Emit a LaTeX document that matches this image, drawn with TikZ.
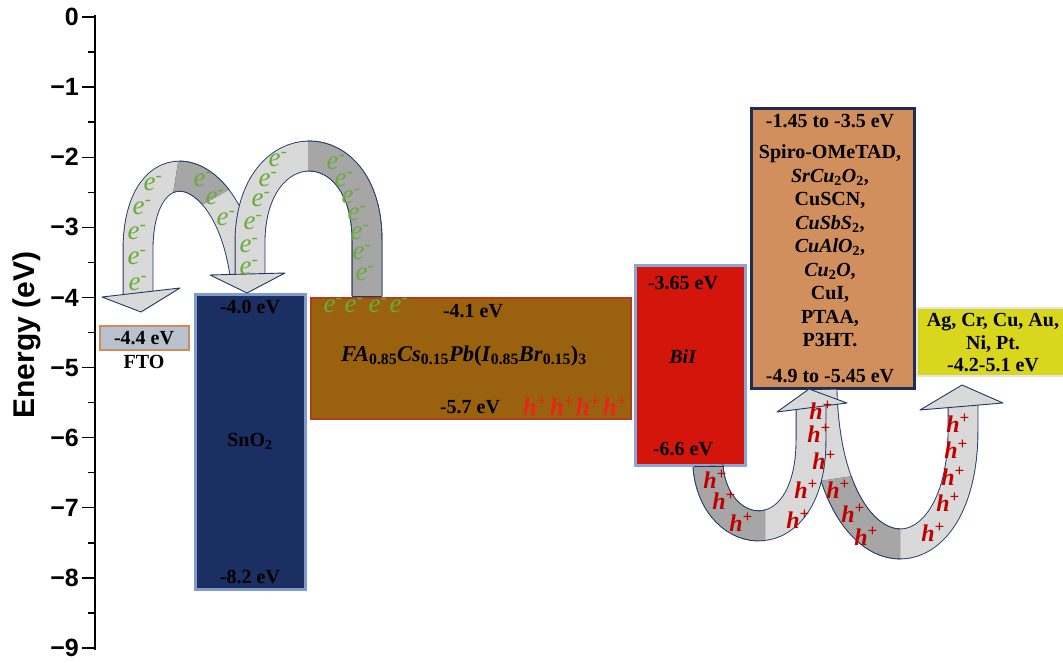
\documentclass[tikz,border=0pt]{standalone}
\usepackage{fontspec}
\setmainfont{Liberation Serif}
\newfontfamily\arialf{Liberation Sans}
\definecolor{navyc}{HTML}{1F3864}
\definecolor{ribl}{HTML}{D9D9D9}
\definecolor{ribd}{HTML}{A6A6A6}
\definecolor{egreen}{HTML}{6AAB3C}
\definecolor{hred}{HTML}{C00000}
\definecolor{pred}{HTML}{E8241C}
\definecolor{ftofill}{HTML}{B7C1CF}
\definecolor{ftodraw}{HTML}{D4895A}
\definecolor{snofill}{HTML}{1C2F63}
\definecolor{snodraw}{HTML}{7E9BCB}
\definecolor{perofill}{HTML}{9A620E}
\definecolor{perodraw}{HTML}{B23C1B}
\definecolor{biifill}{HTML}{D3150B}
\definecolor{biidraw}{HTML}{8BA5D5}
\definecolor{htlfill}{HTML}{D18F5D}
\definecolor{htldraw}{HTML}{1F2D52}
\definecolor{metfill}{HTML}{D8D71D}
\definecolor{metdraw}{HTML}{E5E5E5}
\tikzset{
  layer/.style={anchor=north west, inner sep=0pt, outer sep=0pt},
  lbl/.style={font=\bfseries\fontsize{20}{22}\selectfont, text=black, inner sep=0pt},
  ticklbl/.style={font=\arialf\bfseries\fontsize{25}{25}\selectfont, anchor=east, inner sep=0pt},
  band/.style={draw=navyc, line width=0.9pt, double=#1, double distance=29pt},
  head/.style={draw=navyc, line width=0.9pt, fill=ribl, line join=round},
  el/.style={font=\itshape\fontsize{27}{27}\selectfont, text=egreen, inner sep=0pt},
  hl/.style={font=\bfseries\itshape\fontsize{24}{24}\selectfont, text=hred, inner sep=0pt},
}
\begin{document}
\begin{tikzpicture}[x=1pt,y=-1pt]
\useasboundingbox (0,0) rectangle (1063,662);
\fill[white] (0,0) rectangle (1063,662);

% axis
\draw[line width=1.6pt] (95,15) -- (95,650);
\foreach \k in {0,...,9} {
  \draw[line width=1.4pt] (82,{17+70.11*\k}) -- (95,{17+70.11*\k});
  \node[ticklbl] (t\k) at (79,{17+70.11*\k}) {\ifnum\k=0 0\else −\k\fi};
}
\foreach \k in {0,...,8} {
  \draw[line width=1.4pt] (88,{17+70.11*(\k+0.5)}) -- (95,{17+70.11*(\k+0.5)});
}
\node[font=\arialf\bfseries\fontsize{30}{30}\selectfont, rotate=90] (ylab) at (27,335) {Energy (eV)};

% layers
\node[layer, draw=ftodraw, fill=ftofill, line width=2.5pt, minimum width=89pt, minimum height=24pt] (fto) at (100,326) {};
\node[layer, draw=snodraw, fill=snofill, line width=3pt, minimum width=110pt, minimum height=295pt] (sno) at (195,294) {};
\node[layer, draw=perodraw, fill=perofill, line width=2.5pt, minimum width=320pt, minimum height=121pt] (pero) at (311,298) {};
\node[layer, draw=biidraw, fill=biifill, line width=3pt, minimum width=110pt, minimum height=200pt] (bii) at (635,265) {};
\node[layer, draw=htldraw, fill=htlfill, line width=3pt, minimum width=163pt, minimum height=280pt] (htl) at (751,108) {};
\node[layer, draw=metdraw, fill=metfill, line width=2pt, minimum width=150pt, minimum height=68pt] (met) at (917,308) {};

% layer texts
\node[lbl] (ftoe) at (144,338) {-4.4 eV};
\node[lbl] (ftoname) at (144,362) {FTO};
\node[lbl] (snotop) at (250,307) {-4.0 eV};
\node[lbl] (snoname) at (250,441) {SnO\textsubscript{2}};
\node[lbl] (snobot) at (250,577) {-8.2 eV};
\node[lbl] (perotop) at (473,311) {-4.1 eV};
\node[lbl, font=\bfseries\fontsize{22.5}{24}\selectfont] (peroname) at (464,356) {\textit{FA}\textsubscript{0.85}\textit{Cs}\textsubscript{0.15}\textit{Pb}(\textit{I}\textsubscript{0.85}\textit{Br}\textsubscript{0.15})\textsubscript{3}};
\node[lbl] (perobot) at (470,407) {-5.7 eV};
\node[lbl] (biitop) at (683,283) {-3.65 eV};
\node[lbl] (biiname) at (683,357) {\textit{BiI}};
\node[lbl] (biibot) at (683,449) {-6.6 eV};
\node[lbl] (htltop) at (830,121) {-1.45 to -3.5 eV};
\node[lbl, align=center, font=\bfseries\fontsize{20}{23.5}\selectfont] (htlname) at (830,246) {Spiro-OMeTAD,\\ \textit{SrCu}\textsubscript{2}\textit{O}\textsubscript{2},\\ CuSCN,\\ \textit{CuSbS}\textsubscript{2},\\ \textit{CuAlO}\textsubscript{2},\\ \textit{Cu}\textsubscript{2}\textit{O},\\ CuI,\\ PTAA,\\ P3HT.};
\node[lbl] (htlbot) at (830,376) {-4.9 to -5.45 eV};
\node[lbl, align=center, font=\bfseries\fontsize{20}{22.5}\selectfont] (metname) at (993,343) {Ag, Cr, Cu, Au,\\ Ni, Pt.\\ -4.2-5.1 eV};

% electron arrow 1 (SnO2 -> FTO)
\draw[band=ribl] (245,275) .. controls (228,153) and (138,143) .. (138,250) -- (138,294);
\begin{scope}
  \clip (172,200) -- (181,145) -- (260,172) -- (195,209) -- cycle;
  \draw[band=ribd] (245,275) .. controls (228,153) and (138,143) .. (138,250) -- (138,294);
\end{scope}
\draw[head] (102,297) -- (141,312) -- (180,288) -- cycle;

% electron arrow 2 (perovskite -> SnO2)
\draw[band=ribl] (367,296) -- (367,240) .. controls (367,128) and (252,128) .. (250,240) -- (250,276);
\begin{scope}
  \clip (308,100) rectangle (420,300);
  \draw[band=ribd] (367,296) -- (367,240) .. controls (367,128) and (252,128) .. (250,240) -- (250,276);
\end{scope}
\draw[navyc, line width=0.9pt] (352,296) -- (382,296);
\draw[head] (210,275) -- (247,293) -- (285,273) -- cycle;

% hole arrow 2 (HTL -> metal)
\draw[band=ribl] (822,390) .. controls (827,588) and (963,588) .. (963,430) -- (963,404);
\begin{scope}
  \clip (780,487) -- (880,472) -- (900,472) -- (900,600) -- (780,600) -- cycle;
  \draw[band=ribd] (822,390) .. controls (827,588) and (963,588) .. (963,430) -- (963,404);
\end{scope}
\draw[head] (920,410) -- (962,385) -- (1003,403) -- cycle;

% hole arrow 1 (BiI -> HTL)
\draw[band=ribl] (708,466) .. controls (714,545) and (811,555) .. (811,440) -- (811,404);
\begin{scope}
  \clip (600,400) rectangle (765,600);
  \draw[band=ribd] (708,466) .. controls (714,545) and (811,555) .. (811,440) -- (811,404);
\end{scope}
\draw[navyc, line width=0.9pt] (693.5,466) -- (722.5,466);
\draw[head] (777,412) -- (809,389) -- (847,403) -- cycle;

% electrons
\foreach \x/\y [count=\i] in {153/184,142/208,137/233,137/258,138/284,203/180,215/198,226/219,278/160,268/180,261/200,253/223,249/246,249/268,336/163,344/180,351/197,357/214,360/233,362/253,365/274,333/306,354/306,378/306,399/306}
  \node[el] (e\i) at (\x,\y) {e\textsuperscript{-}};

% holes
\foreach \x/\y [count=\i] in {715/479,724/500,741/522,806/489,798/519,821/410,819/433,824/460,838/489,853/513,866/536,958/423,956/449,953/476,948/502,933/532}
  \node[hl] (h\i) at (\x,\y) {h\textsuperscript{+}};
\foreach \x [count=\i] in {535,562,588,615}
  \node[hl, text=pred, font=\bfseries\itshape\fontsize{25}{25}\selectfont] (ph\i) at (\x,406) {h\textsuperscript{+}};
\end{tikzpicture}
\end{document}
